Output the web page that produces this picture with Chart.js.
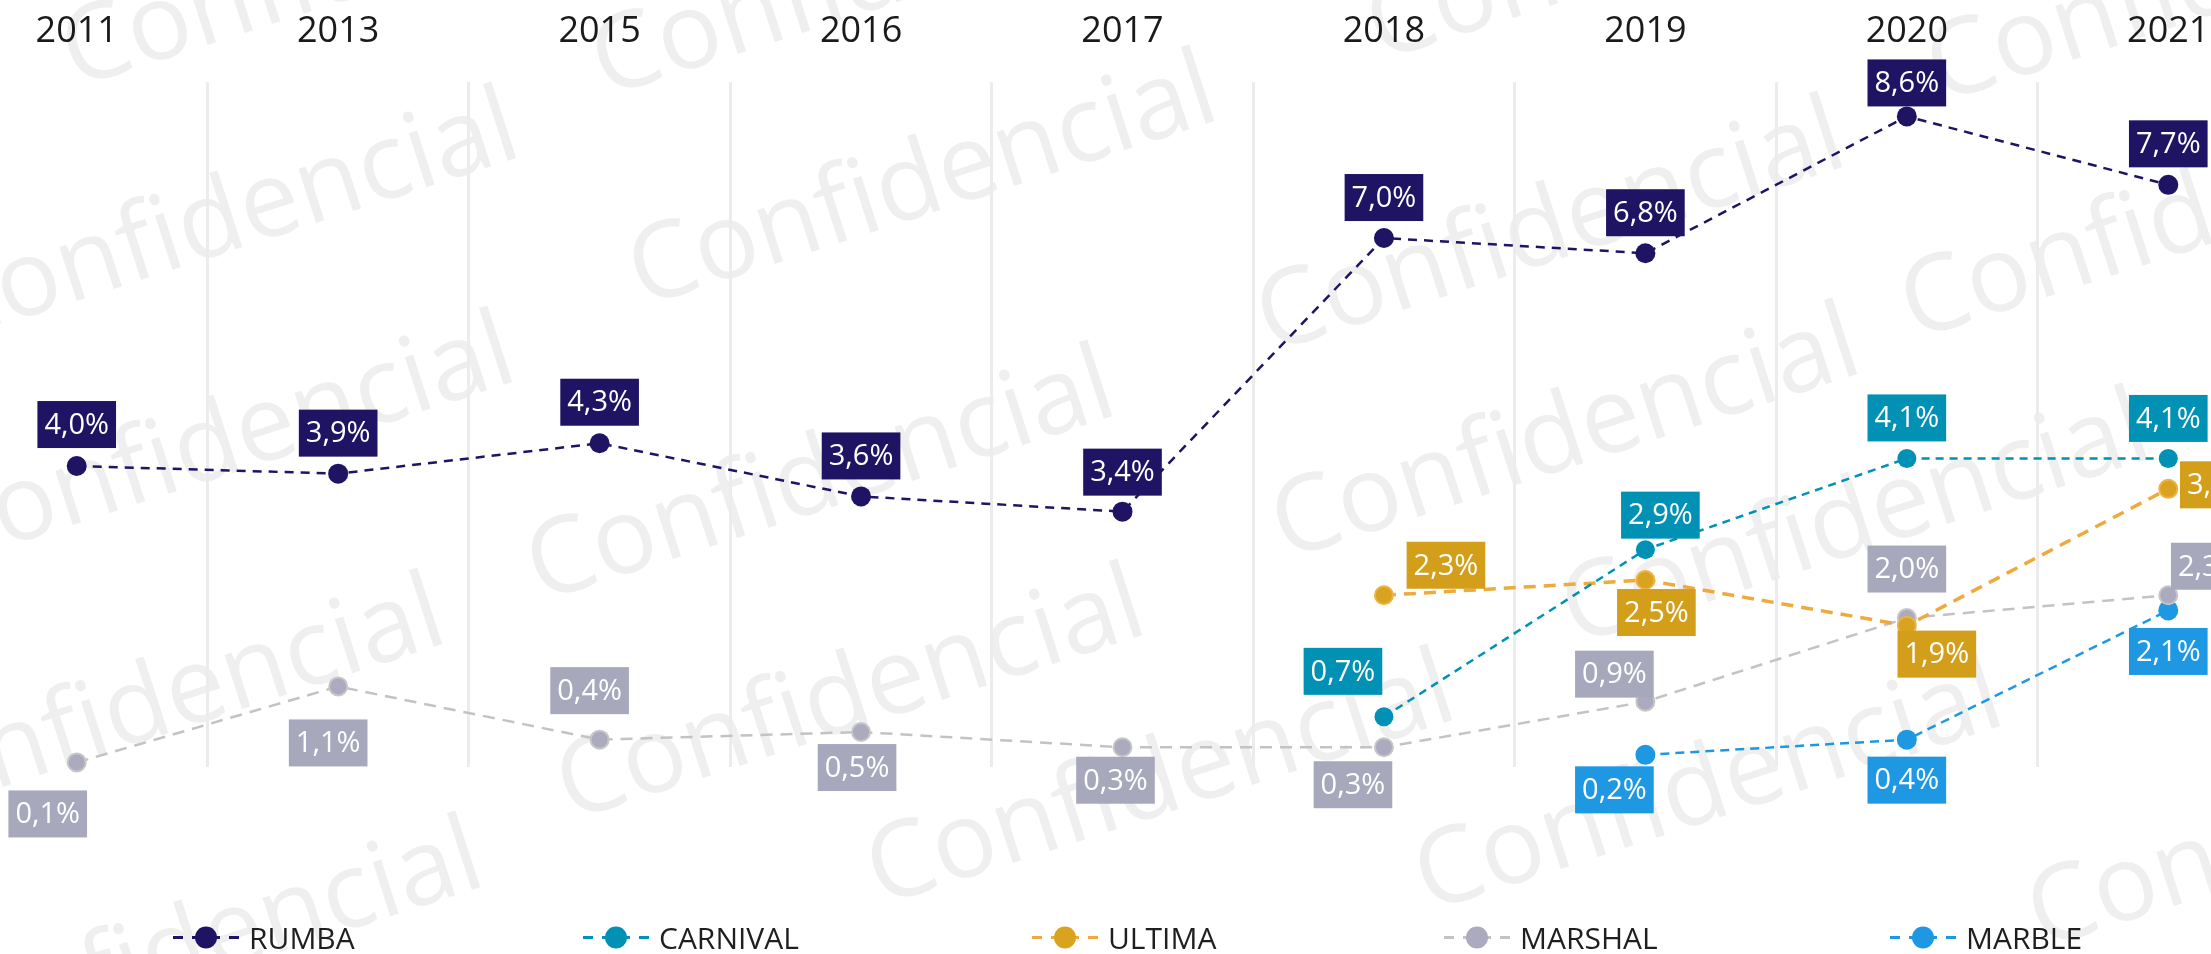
<!DOCTYPE html>
<html>
<head>
<meta charset="utf-8">
<script src="https://cdn.jsdelivr.net/npm/chart.js@4.4.0/dist/chart.umd.min.js"></script>
<style>
html,body{margin:0;padding:0;width:2211px;height:954px;overflow:hidden;background:#fff;}
#wm{position:absolute;left:0;top:0;width:2211px;height:954px;z-index:0;}
#wrap{position:absolute;left:-54px;top:0;width:2353px;height:954px;z-index:1;}
#legend{position:absolute;left:0;top:0;width:2211px;height:954px;z-index:2;pointer-events:none;}
.li{position:absolute;top:937px;transform:translateY(-50%);display:flex;align-items:center;font-family:'Open Sans',sans-serif;font-size:30px;color:#1f1f1f;white-space:nowrap;}
.li svg{margin-right:10px;}
</style>
</head>
<body>
<svg id="wm" xmlns="http://www.w3.org/2000/svg"></svg>
<div id="wrap"><canvas id="c" width="2353" height="954"></canvas></div>
<div id="legend"></div>
<script>
// ---- data ----
const categories = ['2011','2013','2015','2016','2017','2018','2019','2020','2021'];
const rumba    = [4.0, 3.9, 4.3, 3.6, 3.4, 7.0, 6.8, 8.6, 7.7];
const carnival = [null, null, null, null, null, 0.7, 2.9, 4.1, 4.1];
const ultima   = [null, null, null, null, null, 2.3, 2.5, 1.9, 3.7];
const marshal  = [0.1, 1.1, 0.4, 0.5, 0.3, 0.3, 0.9, 2.0, 2.3];
const marble   = [null, null, null, null, null, null, 0.2, 0.4, 2.1];
const seriesNames = ['RUMBA','CARNIVAL','ULTIMA','MARSHAL','MARBLE'];

// ---- styling ----
const styles = {
  RUMBA:    {line:'#1e1463', fill:'#1e1463', border:'#1e1463', box:'#1e1463', width:2.5, dash:[9,7],  r:10,  bw:0},
  CARNIVAL: {line:'#0091b5', fill:'#0091b5', border:'#0091b5', box:'#0091b5', width:2.5, dash:[8,6],  r:9.5, bw:0},
  ULTIMA:   {line:'#eeaa3c', fill:'#d9a21f', border:'#ebb445', box:'#d39e19', width:3.5, dash:[12,8], r:9,   bw:2},
  MARSHAL:  {line:'#c3c3c3', fill:'#abaabf', border:'#c6c6c6', box:'#a8a8bd', width:2.5, dash:[12,8], r:9,   bw:2},
  MARBLE:   {line:'#1e98e2', fill:'#1e98e2', border:'#1e98e2', box:'#1e98e2', width:2.5, dash:[9,6],  r:10,  bw:0}
};
// label box centre relative to its point (px)
const labelPlacement = {
  RUMBA:    {dx:[0,0,0,0,0,0,0,0,0], dy:[-41.5,-40.5,-41,-40.5,-39.5,-40.5,-40.5,-33.5,-41]},
  CARNIVAL: {dx:[0,0,0,0,0,-41,15,0,0], dy:[0,0,0,0,0,-45.5,-34.5,-40.5,-40]},
  ULTIMA:   {dx:[0,0,0,0,0,62,11,30,51], dy:[0,0,0,0,0,-30,32.5,28.5,-4]},
  MARSHAL:  {dx:[-29,-10,-10,-4,-7,-31,-31,0,42], dy:[51.5,56.5,-49,35.5,33,37.5,-27.5,-49,-29]},
  MARBLE:   {dx:[0,0,0,0,0,0,-31,0,0], dy:[0,0,0,0,0,0,35,40.5,41]}
};

const seriesData = [rumba, carnival, ultima, marshal, marble];
const datasets = seriesNames.map((name, i) => {
  const s = styles[name];
  return {
    label: name,
    data: seriesData[i],
    borderColor: s.line,
    borderWidth: s.width,
    borderDash: s.dash,
    pointRadius: s.r,
    pointHoverRadius: s.r,
    pointBackgroundColor: s.fill,
    pointBorderColor: s.border,
    pointBorderWidth: s.bw,
    tension: 0,
    fill: false,
    clip: false,
    spanGaps: false
  };
});

const fmt = v => v.toFixed(1).replace('.', ',') + '%';

const valueLabels = {
  id: 'valueLabels',
  afterDatasetsDraw(chart) {
    const ctx = chart.ctx;
    ctx.save();
    ctx.font = '29px "Open Sans"';
    ctx.textAlign = 'center';
    ctx.textBaseline = 'middle';
    chart.data.datasets.forEach((ds, di) => {
      const meta = chart.getDatasetMeta(di);
      const place = labelPlacement[ds.label];
      meta.data.forEach((pt, i) => {
        const v = ds.data[i];
        if (v === null || v === undefined) return;
        const txt = fmt(v);
        const w = Math.max(78, ctx.measureText(txt).width + 14);
        const h = 47;
        const cx = pt.x + place.dx[i];
        const cy = pt.y + place.dy[i];
        ctx.fillStyle = styles[ds.label].box;
        ctx.fillRect(cx - w / 2, cy - h / 2, w, h);
        ctx.fillStyle = '#ffffff';
        ctx.fillText(txt, cx, cy + 1);
      });
    });
    ctx.restore();
  }
};

new Chart(document.getElementById('c'), {
  type: 'line',
  data: { labels: categories, datasets },
  options: {
    responsive: false,
    animation: false,
    layout: { autoPadding: false, padding: { top: 7, bottom: 187, left: 0, right: 0 } },
    plugins: { legend: { display: false }, tooltip: { enabled: false } },
    scales: {
      x: {
        position: 'top',
        offset: true,
        grid: { display: true, offset: true, drawTicks: false, color: '#ececec', lineWidth: 3 },
        border: { display: false },
        ticks: { font: { family: 'Open Sans', size: 36 }, color: '#1a1a1a', padding: 29 },
        afterFit: (scale) => { scale.height = 75; }
      },
      y: { display: false, min: 0.04, max: 9.053 }
    }
  },
  plugins: [valueLabels]
});

// ---- legend (HTML) ----
const legendX = [173, 583, 1032, 1444, 1890];
const legend = document.getElementById('legend');
seriesNames.forEach((name, i) => {
  const s = styles[name];
  const d = document.createElement('div');
  d.className = 'li';
  d.style.left = legendX[i] + 'px';
  d.innerHTML =
    '<svg width="66" height="26" xmlns="http://www.w3.org/2000/svg">' +
    '<line x1="0" y1="13" x2="10" y2="13" stroke="' + s.line + '" stroke-width="3"/>' +
    '<line x1="19" y1="13" x2="47" y2="13" stroke="' + s.line + '" stroke-width="3"/>' +
    '<line x1="56" y1="13" x2="66" y2="13" stroke="' + s.line + '" stroke-width="3"/>' +
    '<circle cx="33" cy="13" r="11" fill="' + s.fill + '"/>' +
    '</svg><span>' + name + '</span>';
  legend.appendChild(d);
});

// ---- watermark ----
const wmText = 'Confidencial';
const wmSpots = [[75,88],[605,97],[1380,61],[1940,103],[-56,344],[642,307],[1270,353],[1914,340],
  [-60,568],[540,602],[1285,560],[1575,645],[-130,830],[570,821],[880,906],[1428,912],[2041,949],[-92,1073]];
const wm = document.getElementById('wm');
wmSpots.forEach(([x, y]) => {
  const t = document.createElementNS('http://www.w3.org/2000/svg', 'text');
  t.setAttribute('x', x);
  t.setAttribute('y', y);
  t.setAttribute('transform', 'rotate(-18 ' + x + ' ' + y + ')');
  t.setAttribute('font-family', 'Open Sans');
  t.setAttribute('font-size', '106');
  t.setAttribute('fill', '#efefef');
  t.textContent = wmText;
  wm.appendChild(t);
});
</script>
</body>
</html>
